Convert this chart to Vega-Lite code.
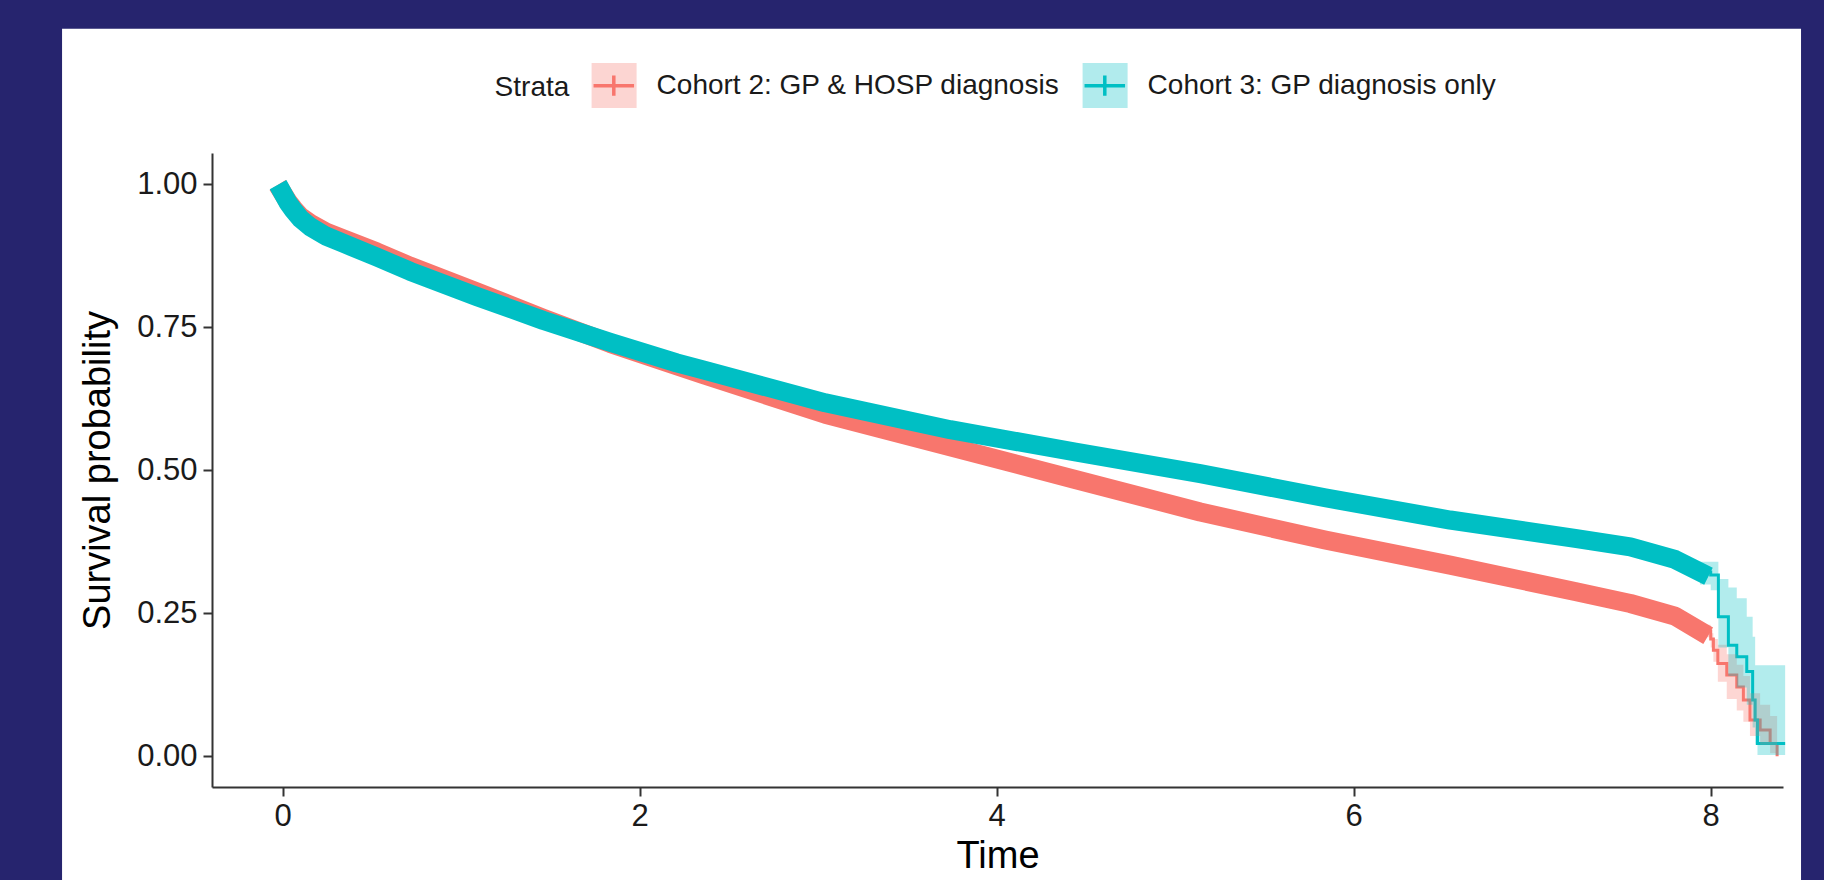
{
  "$schema": "https://vega.github.io/schema/vega-lite/v6.json",
  "width": 1571,
  "height": 634,
  "autosize": {"type": "none"},
  "padding": {"left": 212, "top": 153, "right": 41, "bottom": 93},
  "background": "#26246E",
  "config": {
    "view": {"stroke": null},
    "font": "Liberation Sans",
    "axis": {
      "grid": false,
      "domainColor": "#333333",
      "domainWidth": 2,
      "tickColor": "#333333",
      "tickWidth": 2,
      "tickSize": 9,
      "labelFont": "Liberation Sans",
      "labelFontSize": 31,
      "labelColor": "#1a1a1a",
      "labelFlush": false,
      "titleFont": "Liberation Sans",
      "titleFontSize": 38,
      "titleFontWeight": "normal",
      "titleColor": "#000000",
      "zindex": 1
    }
  },
  "data": {
    "values": [
      {"strata": "Cohort 2: GP & HOSP diagnosis", "time": 0, "surv": 0.985},
      {"strata": "Cohort 2: GP & HOSP diagnosis", "time": 0.03, "surv": 0.97},
      {"strata": "Cohort 2: GP & HOSP diagnosis", "time": 0.06, "surv": 0.958},
      {"strata": "Cohort 2: GP & HOSP diagnosis", "time": 0.1, "surv": 0.944},
      {"strata": "Cohort 2: GP & HOSP diagnosis", "time": 0.154, "surv": 0.932},
      {"strata": "Cohort 2: GP & HOSP diagnosis", "time": 0.24, "surv": 0.917},
      {"strata": "Cohort 2: GP & HOSP diagnosis", "time": 0.34, "surv": 0.905},
      {"strata": "Cohort 2: GP & HOSP diagnosis", "time": 0.527, "surv": 0.882},
      {"strata": "Cohort 2: GP & HOSP diagnosis", "time": 0.714, "surv": 0.857},
      {"strata": "Cohort 2: GP & HOSP diagnosis", "time": 1.087, "surv": 0.812},
      {"strata": "Cohort 2: GP & HOSP diagnosis", "time": 1.461, "surv": 0.766},
      {"strata": "Cohort 2: GP & HOSP diagnosis", "time": 1.834, "surv": 0.722},
      {"strata": "Cohort 2: GP & HOSP diagnosis", "time": 2.207, "surv": 0.683},
      {"strata": "Cohort 2: GP & HOSP diagnosis", "time": 2.35, "surv": 0.668},
      {"strata": "Cohort 2: GP & HOSP diagnosis", "time": 3.04, "surv": 0.598},
      {"strata": "Cohort 2: GP & HOSP diagnosis", "time": 3.74, "surv": 0.541},
      {"strata": "Cohort 2: GP & HOSP diagnosis", "time": 4.44, "surv": 0.484},
      {"strata": "Cohort 2: GP & HOSP diagnosis", "time": 5.14, "surv": 0.427},
      {"strata": "Cohort 2: GP & HOSP diagnosis", "time": 5.84, "surv": 0.378},
      {"strata": "Cohort 2: GP & HOSP diagnosis", "time": 6.54, "surv": 0.334},
      {"strata": "Cohort 2: GP & HOSP diagnosis", "time": 7.24, "surv": 0.288},
      {"strata": "Cohort 2: GP & HOSP diagnosis", "time": 7.55, "surv": 0.267},
      {"strata": "Cohort 2: GP & HOSP diagnosis", "time": 7.8, "surv": 0.245},
      {"strata": "Cohort 2: GP & HOSP diagnosis", "time": 7.94, "surv": 0.219, "lower": 0.208, "upper": 0.23},
      {"strata": "Cohort 2: GP & HOSP diagnosis", "time": 8.0, "surv": 0.205, "lower": 0.19, "upper": 0.215},
      {"strata": "Cohort 2: GP & HOSP diagnosis", "time": 8.015, "surv": 0.185, "lower": 0.165, "upper": 0.205},
      {"strata": "Cohort 2: GP & HOSP diagnosis", "time": 8.04, "surv": 0.162, "lower": 0.13, "upper": 0.195},
      {"strata": "Cohort 2: GP & HOSP diagnosis", "time": 8.09, "surv": 0.142, "lower": 0.1, "upper": 0.178},
      {"strata": "Cohort 2: GP & HOSP diagnosis", "time": 8.146, "surv": 0.121, "lower": 0.08, "upper": 0.16},
      {"strata": "Cohort 2: GP & HOSP diagnosis", "time": 8.183, "surv": 0.098, "lower": 0.06, "upper": 0.14},
      {"strata": "Cohort 2: GP & HOSP diagnosis", "time": 8.22, "surv": 0.063, "lower": 0.035, "upper": 0.11},
      {"strata": "Cohort 2: GP & HOSP diagnosis", "time": 8.277, "surv": 0.0455, "lower": 0.02, "upper": 0.09},
      {"strata": "Cohort 2: GP & HOSP diagnosis", "time": 8.333, "surv": 0.022, "lower": 0.005, "upper": 0.07},
      {"strata": "Cohort 2: GP & HOSP diagnosis", "time": 8.372, "surv": 0.0, "lower": 0.0, "upper": 0.05},
      {"strata": "Cohort 3: GP diagnosis only", "time": 0, "surv": 0.985},
      {"strata": "Cohort 3: GP diagnosis only", "time": 0.03, "surv": 0.968},
      {"strata": "Cohort 3: GP diagnosis only", "time": 0.06, "surv": 0.955},
      {"strata": "Cohort 3: GP diagnosis only", "time": 0.1, "surv": 0.94},
      {"strata": "Cohort 3: GP diagnosis only", "time": 0.154, "surv": 0.926},
      {"strata": "Cohort 3: GP diagnosis only", "time": 0.24, "surv": 0.91},
      {"strata": "Cohort 3: GP diagnosis only", "time": 0.34, "surv": 0.897},
      {"strata": "Cohort 3: GP diagnosis only", "time": 0.527, "surv": 0.873},
      {"strata": "Cohort 3: GP diagnosis only", "time": 0.714, "surv": 0.848},
      {"strata": "Cohort 3: GP diagnosis only", "time": 1.087, "surv": 0.804},
      {"strata": "Cohort 3: GP diagnosis only", "time": 1.461, "surv": 0.762},
      {"strata": "Cohort 3: GP diagnosis only", "time": 1.834, "surv": 0.724},
      {"strata": "Cohort 3: GP diagnosis only", "time": 2.207, "surv": 0.688},
      {"strata": "Cohort 3: GP diagnosis only", "time": 2.35, "surv": 0.676},
      {"strata": "Cohort 3: GP diagnosis only", "time": 3.04, "surv": 0.618},
      {"strata": "Cohort 3: GP diagnosis only", "time": 3.74, "surv": 0.571},
      {"strata": "Cohort 3: GP diagnosis only", "time": 4.44, "surv": 0.532},
      {"strata": "Cohort 3: GP diagnosis only", "time": 5.14, "surv": 0.494},
      {"strata": "Cohort 3: GP diagnosis only", "time": 5.84, "surv": 0.452},
      {"strata": "Cohort 3: GP diagnosis only", "time": 6.54, "surv": 0.413},
      {"strata": "Cohort 3: GP diagnosis only", "time": 7.24, "surv": 0.381},
      {"strata": "Cohort 3: GP diagnosis only", "time": 7.55, "surv": 0.366},
      {"strata": "Cohort 3: GP diagnosis only", "time": 7.8, "surv": 0.344},
      {"strata": "Cohort 3: GP diagnosis only", "time": 7.94, "surv": 0.322, "lower": 0.3, "upper": 0.34},
      {"strata": "Cohort 3: GP diagnosis only", "time": 8.0, "surv": 0.317, "lower": 0.29, "upper": 0.34},
      {"strata": "Cohort 3: GP diagnosis only", "time": 8.043, "surv": 0.244, "lower": 0.19, "upper": 0.31},
      {"strata": "Cohort 3: GP diagnosis only", "time": 8.099, "surv": 0.194, "lower": 0.14, "upper": 0.295},
      {"strata": "Cohort 3: GP diagnosis only", "time": 8.146, "surv": 0.174, "lower": 0.12, "upper": 0.276},
      {"strata": "Cohort 3: GP diagnosis only", "time": 8.202, "surv": 0.148, "lower": 0.09, "upper": 0.244},
      {"strata": "Cohort 3: GP diagnosis only", "time": 8.235, "surv": 0.098, "lower": 0.05, "upper": 0.209},
      {"strata": "Cohort 3: GP diagnosis only", "time": 8.249, "surv": 0.063, "lower": 0.02, "upper": 0.159},
      {"strata": "Cohort 3: GP diagnosis only", "time": 8.262, "surv": 0.022, "lower": 0.002, "upper": 0.159},
      {"strata": "Cohort 3: GP diagnosis only", "time": 8.417, "surv": 0.022, "lower": 0.002, "upper": 0.159}
    ]
  },
  "layer": [
    {
      "data": {"values": [{"panel": "background"}]},
      "mark": {"type": "rect", "fill": "#ffffff", "clip": false},
      "encoding": {
        "x": {"datum": -1.236, "type": "quantitative", "scale": {"domain": [-0.396, 8.405], "nice": false, "zero": false}, "axis": {"title": "Time", "values": [0, 2, 4, 6, 8], "format": "d", "labelPadding": 5, "titlePadding": 6, "zindex": 1}},
        "x2": {"datum": 8.506},
        "y": {"datum": 1.2725, "type": "quantitative", "scale": {"domain": [-0.054, 1.055], "nice": false, "zero": false}, "axis": {"title": "Survival probability", "values": [0, 0.25, 0.5, 0.75, 1], "format": ".2f", "labelPadding": 6, "titlePadding": 19, "zindex": 1}},
        "y2": {"datum": -0.25}
      }
    },
    {
      "transform": [{"filter": "datum.time <= 7.95"}],
      "mark": {"type": "line", "strokeWidth": 19, "strokeCap": "square", "strokeJoin": "round"},
      "encoding": {
        "x": {"field": "time", "type": "quantitative", "scale": {"domain": [-0.396, 8.405], "nice": false, "zero": false}, "axis": {"title": "Time", "values": [0, 2, 4, 6, 8], "format": "d", "labelPadding": 5, "titlePadding": 6, "zindex": 1}},
        "y": {"field": "surv", "type": "quantitative", "scale": {"domain": [-0.054, 1.055], "nice": false, "zero": false}, "axis": {"title": "Survival probability", "values": [0, 0.25, 0.5, 0.75, 1], "format": ".2f", "labelPadding": 6, "titlePadding": 19, "zindex": 1}},
        "stroke": {
          "field": "strata",
          "type": "nominal",
          "scale": {"range": ["#F8766D", "#00BFC4"]},
          "legend": {
            "orient": "none", "legendX": 377.3, "legendY": -92, "direction": "horizontal",
            "title": null,
            "labelExpr": "''", "labelFontSize": 28, "labelFont": "Liberation Sans", "labelOffset": 0,
            "symbolType": "M-0.9,0H0.9M0,-0.45V0.45", "symbolSize": 2025, "symbolStrokeWidth": 3.5, "symbolFillColor": "rgba(0,0,0,0)",
            "columnPadding": 436, "padding": 0, "zindex": 2
          }
        }
      }
    },
    {
      "transform": [{"filter": "datum.time >= 7.94"}],
      "mark": {"type": "line", "strokeWidth": 3, "interpolate": "step-after"},
      "encoding": {
        "x": {"field": "time", "type": "quantitative", "scale": {"domain": [-0.396, 8.405], "nice": false, "zero": false}, "axis": {"title": "Time", "values": [0, 2, 4, 6, 8], "format": "d", "labelPadding": 5, "titlePadding": 6, "zindex": 1}},
        "y": {"field": "surv", "type": "quantitative", "scale": {"domain": [-0.054, 1.055], "nice": false, "zero": false}, "axis": {"title": "Survival probability", "values": [0, 0.25, 0.5, 0.75, 1], "format": ".2f", "labelPadding": 6, "titlePadding": 19, "zindex": 1}},
        "stroke": {
          "field": "strata",
          "type": "nominal",
          "scale": {"range": ["#F8766D", "#00BFC4"]},
          "legend": {
            "orient": "none", "legendX": 377.3, "legendY": -92, "direction": "horizontal",
            "title": null,
            "labelExpr": "''", "labelFontSize": 28, "labelFont": "Liberation Sans", "labelOffset": 0,
            "symbolType": "M-0.9,0H0.9M0,-0.45V0.45", "symbolSize": 2025, "symbolStrokeWidth": 3.5, "symbolFillColor": "rgba(0,0,0,0)",
            "columnPadding": 436, "padding": 0, "zindex": 2
          }
        }
      }
    },
    {
      "transform": [{"filter": "isValid(datum.lower)"}],
      "mark": {"type": "area", "interpolate": "step-after", "opacity": 0.3},
      "encoding": {
        "x": {"field": "time", "type": "quantitative", "scale": {"domain": [-0.396, 8.405], "nice": false, "zero": false}, "axis": {"title": "Time", "values": [0, 2, 4, 6, 8], "format": "d", "labelPadding": 5, "titlePadding": 6, "zindex": 1}},
        "y": {"field": "lower", "type": "quantitative", "scale": {"domain": [-0.054, 1.055], "nice": false, "zero": false}, "axis": {"title": "Survival probability", "values": [0, 0.25, 0.5, 0.75, 1], "format": ".2f", "labelPadding": 6, "titlePadding": 19, "zindex": 1}},
        "y2": {"field": "upper"},
        "fill": {
          "field": "strata",
          "type": "nominal",
          "scale": {"domain": ["Cohort 2: GP & HOSP diagnosis", "Cohort 3: GP diagnosis only"], "range": ["#F8766D", "#00BFC4"]},
          "legend": {
            "orient": "none", "legendX": 282.6, "legendY": -92, "direction": "horizontal",
            "title": "Strata", "titleOrient": "left", "titleFontSize": 28, "titleFont": "Liberation Sans",
            "titleFontWeight": "normal", "titleColor": "#1a1a1a", "titlePadding": 20, "titleAnchor": "middle", "titleBaseline": "middle",
            "labelFontSize": 28, "labelFont": "Liberation Sans", "labelColor": "#1a1a1a", "labelOffset": 18, "labelLimit": 800,
            "symbolType": "square", "symbolSize": 2025, "symbolStrokeWidth": 3.5, "symbolStrokeColor": "rgba(0,0,0,0)", "symbolOpacity": 0.3,
            "columnPadding": 15, "padding": 0, "zindex": 1
          }
        }
      }
    }
  ]
}
